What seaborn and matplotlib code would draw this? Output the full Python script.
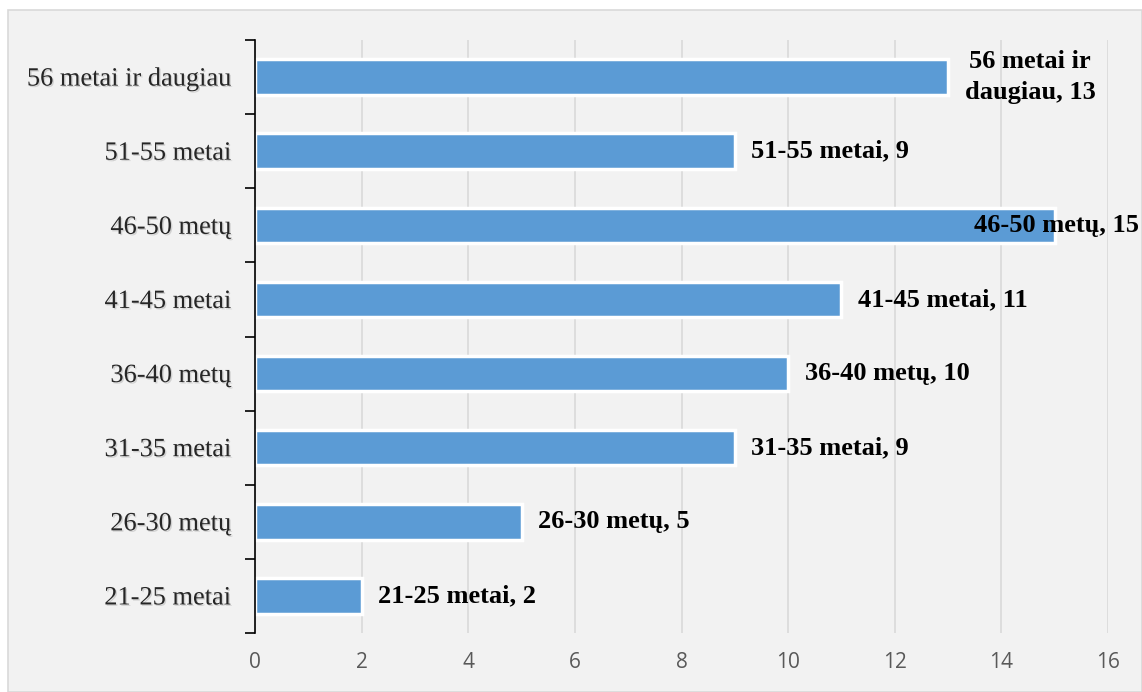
import matplotlib
matplotlib.use("Agg")
import matplotlib.pyplot as plt
import matplotlib.patheffects as pe
from matplotlib.patches import Rectangle
import pandas as pd
import seaborn as sns

# data (top to bottom as drawn)
groups = ["56 metai ir daugiau", "51-55 metai", "46-50 metų", "41-45 metai",
          "36-40 metų", "31-35 metai", "26-30 metų", "21-25 metai"]
counts = [13, 9, 15, 11, 10, 9, 5, 2]
labels = ["56 metai ir\ndaugiau, 13", "51-55 metai, 9", "46-50 metų, 15", "41-45 metai, 11",
          "36-40 metų, 10", "31-35 metai, 9", "26-30 metų, 5", "21-25 metai, 2"]
xticks = [0, 2, 4, 6, 8, 10, 12, 14, 16]

df = pd.DataFrame({"group": groups, "count": counts})

sns.set_style("white")
plt.rcParams["font.family"] = ["Liberation Serif", "DejaVu Serif"]

fig = plt.figure(figsize=(11.42, 6.92), dpi=100)
fig.patch.set_facecolor("white")
fig.patches.append(Rectangle((8 / 1142, 0), 1 - 8 / 1142, 1 - 10 / 692,
                             transform=fig.transFigure, facecolor="#f2f2f2",
                             edgecolor="#d9d9d9", linewidth=1.2, zorder=-10))

ax = fig.add_axes([255 / 1142, 1 - 633 / 692, (1108 - 255) / 1142, (633 - 40) / 692])
ax.set_facecolor("none")

sns.barplot(data=df, x="count", y="group", order=groups, color="#5b9bd5",
            saturation=1, width=0.48, edgecolor="white", linewidth=2.5, ax=ax, zorder=3)

ax.set_xlim(0, 16)
ax.set_ylim(len(groups) - 0.5, -0.5)
ax.set_xticks(xticks)
ax.set_xticklabels([str(t) for t in xticks], family="Open Sans", fontsize=15, color="#595959")
ax.tick_params(axis="x", length=0, pad=14)
ax.xaxis.grid(True, color="#d9d9d9", linewidth=1.2, zorder=0)
ax.set_axisbelow(True)

ax.set_yticks(range(len(groups)))
ax.set_yticklabels(groups, fontsize=19)
ax.tick_params(axis="y", which="major", left=False, length=0, pad=17)
ax.set_yticks([i - 0.5 for i in range(len(groups) + 1)], minor=True)
ax.tick_params(axis="y", which="minor", left=True, length=7, width=1.2, color="black", direction="out")
for t in ax.get_yticklabels():
    t.set_path_effects([pe.withSimplePatchShadow(offset=(1.0, -1.0), shadow_rgbFace="#aaaaaa", alpha=0.45)])

for s in ["top", "right", "bottom"]:
    ax.spines[s].set_visible(False)
ax.spines["left"].set_color("black")
ax.spines["left"].set_linewidth(1.2)
ax.spines["left"].set_zorder(5)
ax.set_xlabel("")
ax.set_ylabel("")

for i, (v, lab) in enumerate(zip(counts, labels)):
    dx = 12
    if v == 15:
        dx = -58
    ax.annotate(lab, xy=(v, i), xytext=(dx, 0), textcoords="offset points",
                ha="left", va="center", ma="center", fontsize=19, fontweight="bold",
                color="black", zorder=6, annotation_clip=False, linespacing=1.45)

fig.savefig("out.png", dpi=100)
